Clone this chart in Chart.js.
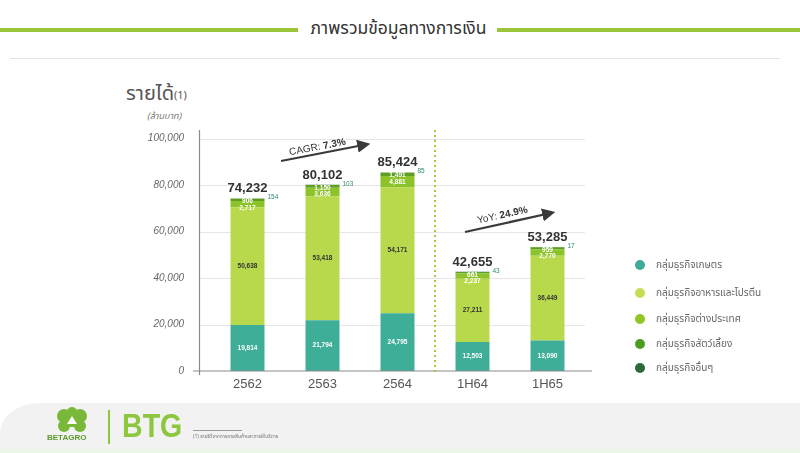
<!DOCTYPE html>
<html><head><meta charset="utf-8">
<script src="https://cdn.jsdelivr.net/npm/chart.js@4.4.1/dist/chart.umd.min.js"></script>
<style>
html,body{margin:0;padding:0;background:#fff;}
#wrap{position:relative;width:800px;height:453px;overflow:hidden;background:#fff;font-family:"Noto Sans Thai","Loma","Garuda","Tlwg Typo","Kinnari","DejaVu Sans",sans-serif;}
canvas{position:absolute;left:0;top:0;}
.abs{position:absolute;white-space:nowrap;}
.lg{position:absolute;left:635px;width:160px;font-size:10px;color:#666;line-height:12px;white-space:nowrap;}
.lg i{position:absolute;left:0;top:1px;width:10px;height:10px;border-radius:50%;}
.lg span{position:absolute;left:21px;top:0;white-space:nowrap;}
</style></head><body>
<div id="wrap">
  <div class="abs" style="left:0;top:28px;width:298px;height:4px;background:#9cc63a"></div>
  <div class="abs" style="left:497px;top:28px;width:303px;height:4px;background:#9cc63a"></div>
  <div class="abs" style="left:298px;top:18px;width:201px;text-align:center;font-size:17.5px;color:#333;line-height:22px;">ภาพรวมข้อมูลทางการเงิน</div>
  <div class="abs" style="left:10px;top:58px;width:770px;height:1px;background:#e2e2e2"></div>

  <div class="abs" style="left:126px;top:82px;font-size:20px;color:#555;line-height:24px;">รายได้<span style="font-size:11px;vertical-align:top;position:relative;top:2px;">(1)</span></div>
  <div class="abs" style="left:147px;top:110px;font-size:9px;font-style:italic;color:#777;line-height:12px;">(ล้านบาท)</div>

  <canvas id="c" width="800" height="453"></canvas>

  <svg class="abs" style="left:0;top:0" width="800" height="453">
    <defs><marker id="ah" markerWidth="6" markerHeight="6" refX="4" refY="3" orient="auto" markerUnits="strokeWidth"><path d="M0,0 L6,3 L0,6 z" fill="#3a3a3a"/></marker></defs>
    <line x1="281" y1="161" x2="366" y2="144.5" stroke="#3a3a3a" stroke-width="2.2" marker-end="url(#ah)"/>
    <text x="318" y="150" font-family="Liberation Sans, Arial, sans-serif" font-size="10" fill="#333" text-anchor="middle" transform="rotate(-10.7 318 150)">CAGR: <tspan font-weight="bold">7.3%</tspan></text>
    <line x1="465" y1="232" x2="551" y2="213" stroke="#3a3a3a" stroke-width="2.2" marker-end="url(#ah)"/>
    <text x="503" y="218" font-family="Liberation Sans, Arial, sans-serif" font-size="10" fill="#333" text-anchor="middle" transform="rotate(-12.3 503 218)">YoY: <tspan font-weight="bold">24.9%</tspan></text>
    <line x1="435" y1="130" x2="435" y2="372" stroke="#a9c93c" stroke-width="2" stroke-dasharray="2,3"/>
  </svg>

  <div class="lg" style="top:259px"><i style="background:#3cab98"></i><span>กลุ่มธุรกิจเกษตร</span></div>
  <div class="lg" style="top:287px"><i style="background:#c3de55"></i><span>กลุ่มธุรกิจอาหารและโปรตีน</span></div>
  <div class="lg" style="top:313px"><i style="background:#93c425"></i><span>กลุ่มธุรกิจต่างประเทศ</span></div>
  <div class="lg" style="top:338px"><i style="background:#4d9b22"></i><span>กลุ่มธุรกิจสัตว์เลี้ยง</span></div>
  <div class="lg" style="top:362px"><i style="background:#2b6a3a"></i><span>กลุ่มธุรกิจอื่นๆ</span></div>

  <div class="abs" style="left:0;top:403px;width:800px;height:50px;background:#f2f2f2;border-top-left-radius:40px 30px;"></div>
  <div class="abs" style="left:0;top:449px;width:800px;height:4px;background:#eaf6e6;"></div>
  <svg class="abs" style="left:52px;top:407px" width="40" height="26">
    <circle cx="12" cy="9" r="7" fill="#7ab83a"/><circle cx="28" cy="9" r="7" fill="#7ab83a"/>
    <circle cx="12" cy="19" r="6" fill="#7ab83a"/><circle cx="28" cy="19" r="6" fill="#7ab83a"/>
    <circle cx="20" cy="5" r="5" fill="#7ab83a"/><rect x="12" y="6" width="16" height="14" fill="#7ab83a"/>
    <path d="M20,9 L25,17 L15,17 z" fill="#fff"/>
  </svg>
  <div class="abs" style="left:47px;top:433px;font-family:'Liberation Sans',Arial,sans-serif;font-weight:bold;font-size:8px;color:#5b9a2c;">BETAGRO</div>
  <div class="abs" style="left:108px;top:410px;width:2px;height:34px;background:#8dc63f"></div>
  <div class="abs" style="left:122px;top:404px;font-family:'Liberation Sans',Arial,sans-serif;font-weight:bold;font-size:34px;color:#8dc63f;line-height:42px;transform:scaleX(0.84);transform-origin:0 0;">BTG</div>
  <div class="abs" style="left:193px;top:430px;width:49px;height:1px;background:#999"></div>
  <div class="abs" style="left:193px;top:433px;font-size:5px;color:#777;line-height:7px;">(1) รายได้จากการขายสินค้าและการให้บริการ</div>
</div>
<script>
const categories = ["2562", "2563", "2564", "1H64", "1H65"];
const agri     = [19814, 21794, 24795, 12503, 13090];
const food     = [50638, 53418, 54171, 27211, 36449];
const intl     = [2717, 3636, 4881, 2237, 2770];
const pet      = [906, 1150, 1491, 661, 959];
const other    = [154, 103, 85, 43, 17];
const totals   = [74232, 80102, 85424, 42655, 53285];
const seriesNames = ["กลุ่มธุรกิจเกษตร","กลุ่มธุรกิจอาหารและโปรตีน","กลุ่มธุรกิจต่างประเทศ","กลุ่มธุรกิจสัตว์เลี้ยง","กลุ่มธุรกิจอื่นๆ"];
const yTicks = [0, 20000, 40000, 60000, 80000, 100000];

const colors = ["#3fae99", "#b9d94d", "#8cc32a", "#5e9f22", "#2c6b32"];
const fmt = v => v.toLocaleString("en-US");
const NUMF = "'Liberation Sans', Arial, sans-serif";

const deco = {
  id: "deco",
  beforeDatasetsDraw(chart) {
    const {ctx, scales: {y}} = chart;
    ctx.save();
    ctx.strokeStyle = "#e6e6e6"; ctx.lineWidth = 1;
    yTicks.forEach(t => {
      if (t === 0) return;
      const py = Math.round(y.getPixelForValue(t)) + 0.5;
      ctx.beginPath(); ctx.moveTo(199, py); ctx.lineTo(585, py); ctx.stroke();
    });
    ctx.restore();
  },
  afterDatasetsDraw(chart) {
    const {ctx, scales: {y}} = chart;
    ctx.save();
    ctx.strokeStyle = "#8a8a8a"; ctx.lineWidth = 1.2;
    const y0 = y.getPixelForValue(0);
    ctx.beginPath(); ctx.moveTo(199.5, 130); ctx.lineTo(199.5, 375); ctx.stroke();
    ctx.beginPath(); ctx.moveTo(193, y0); ctx.lineTo(592, y0); ctx.stroke();
    const metas = [0,1,2,3,4].map(i => chart.getDatasetMeta(i));
    categories.forEach((c, i) => {
      const els = metas.map(m => m.data[i]);
      const topY = els[4].y;
      const right = els[0].x + els[0].width / 2;
      const cx = els[0].x;
      ctx.textAlign = "center"; ctx.textBaseline = "middle";
      ctx.font = "bold 6.5px " + NUMF;
      ctx.fillStyle = "#ffffff";
      ctx.fillText(fmt(agri[i]), cx, (els[0].y + els[0].base) / 2);
      ctx.fillStyle = "#333333";
      ctx.fillText(fmt(food[i]), cx, (els[1].y + els[1].base) / 2);
      ctx.fillStyle = "#ffffff";
      ctx.fillText(fmt(pet[i]), cx, topY + 3);
      ctx.fillText(fmt(intl[i]), cx, Math.max((els[2].y + els[2].base) / 2, topY + 9.5));
      ctx.textAlign = "left"; ctx.fillStyle = "#2e8b6e";
      ctx.font = "6.5px " + NUMF;
      ctx.fillText(fmt(other[i]), right + 3, topY - 1);
      ctx.textAlign = "center"; ctx.textBaseline = "alphabetic";
      ctx.font = "bold 13px " + NUMF; ctx.fillStyle = "#333";
      ctx.fillText(fmt(totals[i]), cx, topY - 6);
    });
    ctx.restore();
  }
};

const vals = [agri, food, intl, pet, other];
new Chart(document.getElementById("c"), {
  type: "bar",
  data: {
    labels: categories,
    datasets: vals.map((v, k) => ({
      label: seriesNames[k], data: v, backgroundColor: colors[k], borderWidth: 0,
      barPercentage: 0.453, categoryPercentage: 1
    }))
  },
  options: {
    responsive: false, animation: false, devicePixelRatio: 1,
    layout: { padding: { top: 138.5, right: 215, left: 0, bottom: 0 } },
    plugins: { legend: { display: false }, tooltip: { enabled: false } },
    scales: {
      x: {
        stacked: true,
        grid: { display: false, drawTicks: false }, border: { display: false },
        ticks: { color: "#555", font: { family: "'Liberation Sans', Arial, sans-serif", size: 13 }, padding: 6 },
        afterFit(s) { s.height = 82; }
      },
      y: {
        stacked: true, min: 0, max: 100000,
        grid: { display: false, drawTicks: false }, border: { display: false },
        afterBuildTicks(s) { s.ticks = yTicks.map(v => ({ value: v })); },
        ticks: { color: "#666", padding: 26, font: { family: "'Liberation Sans', Arial, sans-serif", size: 10, style: "italic" }, callback: v => fmt(v) },
        afterFit(s) { s.width = 210; }
      }
    }
  },
  plugins: [deco]
});
</script>
</body></html>
